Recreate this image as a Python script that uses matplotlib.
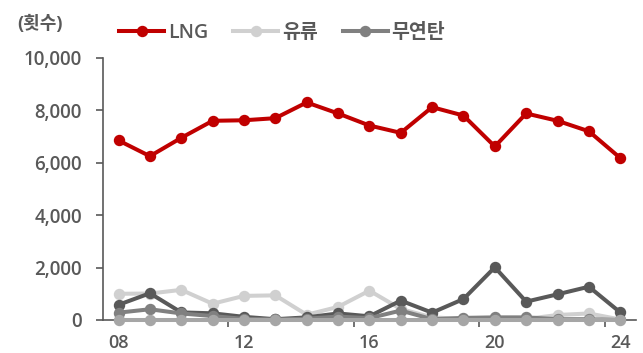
import matplotlib
matplotlib.use("Agg")
import matplotlib.pyplot as plt
from matplotlib.ticker import FuncFormatter, FixedLocator

plt.rcParams['font.family'] = ['Open Sans', 'Noto Sans CJK KR', 'DejaVu Sans']

years = ['08', '09', '10', '11', '12', '13', '14', '15', '16',
         '17', '18', '19', '20', '21', '22', '23', '24']

lng = [6850, 6250, 6950, 7600, 7620, 7700, 8300, 7880, 7420,
       7140, 8120, 7800, 6620, 7880, 7600, 7200, 6180]
oil = [1000, 1010, 1150, 620, 920, 940, 200, 500, 1120,
       420, 100, 40, 40, 40, 190, 250, 20]
anthracite = [280, 410, 250, 150, 40, 20, 50, 130, 70,
              360, 30, 80, 100, 100, 30, 30, 0]
coal_dark = [580, 1020, 290, 255, 120, 30, 100, 250, 140,
             740, 280, 800, 2010, 700, 980, 1270, 290]
other_zero = [0] * 17

text_color = '#595959'
x = list(range(len(years)))

fig = plt.figure(figsize=(6.43, 3.53), dpi=100)
ax = fig.add_axes([0.160, 0.0935, 0.829, 0.7425])

lw = 2.9
ms = 7.2
ax.plot(x, oil, color='#d0d0d0', lw=lw, marker='o', ms=ms, label='유류', zorder=2)
ax.plot(x, coal_dark, color='#595959', lw=lw, marker='o', ms=ms, zorder=3)
ax.plot(x, anthracite, color='#808080', lw=lw, marker='o', ms=ms, label='무연탄', zorder=4)
ax.plot(x, other_zero, color='#a6a6a6', lw=lw, marker='o', ms=ms, zorder=5, clip_on=False)
ax.plot(x, lng, color='#c00000', lw=lw, marker='o', ms=ms, label='LNG', zorder=6)

ax.set_xlim(-0.5, len(years) - 0.5)
ax.set_ylim(0, 10000)

ax.set_yticks(range(0, 10001, 2000))
ax.yaxis.set_major_formatter(FuncFormatter(lambda v, p: f'{int(v):,}'))

# category labels every four years, tick marks on the category boundaries
label_idx = [0, 4, 8, 12, 16]
ax.set_xticks(label_idx)
ax.set_xticklabels([years[i] for i in label_idx])
ax.xaxis.set_minor_locator(FixedLocator([3.5, 7.5, 11.5, 15.5]))
ax.tick_params(axis='x', which='major', length=0, pad=10)
ax.tick_params(axis='x', which='minor', length=5, width=1.2, color=text_color, direction='out')
ax.tick_params(axis='y', length=5, width=1.2, color=text_color, direction='out', pad=10)

for lab in ax.get_xticklabels() + ax.get_yticklabels():
    lab.set_fontsize(13.5)
    lab.set_color(text_color)
    lab.set_fontweight('semibold')
for lab in ax.get_xticklabels():
    lab.set_fontsize(13)

for side in ['top', 'right']:
    ax.spines[side].set_visible(False)
for side in ['left', 'bottom']:
    ax.spines[side].set_color(text_color)
    ax.spines[side].set_linewidth(1.2)

fig.text(17 / 643, 1 - 24 / 353, '(횟수)', fontsize=13, color=text_color,
         fontweight='bold', va='center', ha='left')

handles, labels = ax.get_legend_handles_labels()
order = [labels.index('LNG'), labels.index('유류'), labels.index('무연탄')]
leg = fig.legend([handles[i] for i in order], [labels[i] for i in order],
                 loc='center', bbox_to_anchor=(0.439, 0.907), ncol=3, frameon=False,
                 handlelength=2.3, handletextpad=0.2, columnspacing=1.3,
                 prop={'size': 14, 'weight': 'semibold'})
for t in leg.get_texts():
    t.set_color(text_color)

fig.savefig('out.png', dpi=100)
